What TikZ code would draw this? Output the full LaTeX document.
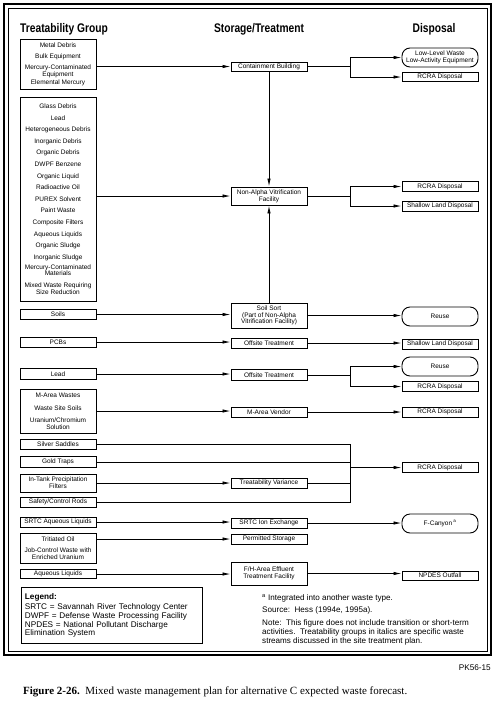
\documentclass[tikz,border=0pt]{standalone}
\usepackage{fontspec}
\setmainfont{Liberation Sans}
\newfontfamily\headfont[FakeStretch=0.82]{Liberation Sans Bold}
\newfontfamily\capfont{Liberation Serif}
\usetikzlibrary{arrows.meta}
\newcommand{\boxfont}{\fontsize{6.5}{6.8}\selectfont}

\begin{document}
\begin{tikzpicture}[x=1pt,y=-1pt,
    wbox/.style={draw,line width=0.9pt,minimum width=76pt,minimum height=10pt,inner sep=1pt,align=center,font=\boxfont},
    rbox/.style={wbox,rounded corners=8pt,minimum height=19pt},
    flow/.style={line width=0.8pt,-{Latex[length=8pt,width=3.4pt]}},
    link/.style={line width=0.8pt}]
    \useasboundingbox (0,0) rectangle (500,702);
    %% Frame
    \draw[line width=2pt] (4,4) rectangle (491,655);
    \draw[line width=0.8pt] (8,8) rectangle (487,651);
    %% Headings
    \node[font=\headfont\fontsize{12.5}{14}\selectfont,anchor=base west,inner sep=0] (hgroup) at (20,32) {Treatability Group};
    \node[font=\headfont\fontsize{12.5}{14}\selectfont,anchor=base,inner sep=0] (hstore) at (259,32) {Storage/Treatment};
    \node[font=\headfont\fontsize{12.5}{14}\selectfont,anchor=base,inner sep=0] (hdisp) at (434,32) {Disposal};
    %% Treatability groups
    \node[wbox,minimum height=50pt] (metal) at (58,64) {Metal Debris\\[4.5pt]Bulk Equipment\\[4pt]Mercury-Contaminated\\Equipment\\[1pt]Elemental Mercury};
    \node[wbox,minimum height=204pt] (glass) at (58,199) {Glass Debris\\[4.8pt]Lead\\[4.8pt]Heterogeneous Debris\\[4.8pt]Inorganic Debris\\[4.8pt]Organic Debris\\[4.8pt]DWPF Benzene\\[4.8pt]Organic Liquid\\[4.8pt]Radioactive Oil\\[4.8pt]PUREX Solvent\\[4.8pt]Paint Waste\\[4.8pt]Composite Filters\\[4.8pt]Aqueous Liquids\\[4.8pt]Organic Sludge\\[4.8pt]Inorganic Sludge\\[3pt]Mercury-Contaminated\\Materials\\[4.8pt]Mixed Waste Requiring\\Size Reduction};
    \node[wbox] (soils) at (58,314.5) {Soils};
    \node[wbox] (pcbs) at (58,342) {PCBs};
    \node[wbox,minimum height=11pt] (lead) at (58,374) {Lead};
    \node[wbox,minimum height=44pt] (marea) at (58,411) {M-Area Wastes\\[7pt]Waste Site Soils\\[5pt]Uranium/Chromium\\Solution};
    \node[wbox] (silver) at (58,444) {Silver Saddles};
    \node[wbox,minimum height=11pt] (gold) at (58,462) {Gold Traps};
    \node[wbox,minimum height=18pt] (intank) at (58,483) {In-Tank Precipitation\\Filters};
    \node[wbox] (safety) at (58,502) {Safety/Control Rods};
    \node[wbox] (srtcliq) at (58,522) {SRTC Aqueous Liquids};
    \node[wbox,minimum height=30pt] (tritium) at (58,548) {Tritiated Oil\\[4pt]Job-Control Waste with\\Enriched Uranium};
    \node[wbox,minimum height=9pt] (aqliq) at (58,574) {Aqueous Liquids};
    %% Storage / treatment
    \node[wbox,minimum height=9pt] (contain) at (269,66.5) {Containment Building};
    \node[wbox,minimum height=18pt] (vitrify) at (269,196) {Non-Alpha Vitrification\\Facility};
    \node[wbox,minimum height=25pt] (soilsort) at (269,315.5) {Soil Sort\\(Part of Non-Alpha\\Vitrification Facility)};
    \node[wbox] (offsiteA) at (269,343) {Offsite Treatment};
    \node[wbox,minimum height=11pt] (offsiteB) at (269,375) {Offsite Treatment};
    \node[wbox] (vendor) at (269,412) {M-Area Vendor};
    \node[wbox] (variance) at (269,483) {Treatability Variance};
    \node[wbox] (ionex) at (269,523) {SRTC Ion Exchange};
    \node[wbox] (permit) at (269,539) {Permitted Storage};
    \node[wbox,minimum height=23pt] (effluent) at (269,573.5) {F/H-Area Effluent\\Treatment Facility};
    %% Disposal
    \node[rbox] (llw) at (440,57.5) {Low-Level Waste\\Low-Activity Equipment};
    \node[wbox,minimum height=8.5pt] (rcraA) at (440,77) {RCRA Disposal};
    \node[wbox] (rcraB) at (440,186.5) {RCRA Disposal};
    \node[wbox] (shallowA) at (440,206) {Shallow Land Disposal};
    \node[rbox] (reuseA) at (440,316.5) {Reuse};
    \node[wbox] (shallowB) at (440,344) {Shallow Land Disposal};
    \node[rbox] (reuseB) at (440,366.5) {Reuse};
    \node[wbox] (rcraC) at (440,386.5) {RCRA Disposal};
    \node[wbox] (rcraD) at (440,412) {RCRA Disposal};
    \node[wbox] (rcraE) at (440,467.5) {RCRA Disposal};
    \node[rbox] (canyon) at (440,523.5) {F-Canyon\,\textsuperscript{a}};
    \node[wbox,minimum height=9pt] (npdes) at (440,575.5) {NPDES Outfall};
    \coordinate (split) at (350,0);
    %% Flows
    \draw[flow] (metal.east |- contain) -- (contain);
    \draw[flow] (contain) -- (split |- contain) |- (llw);
    \draw[flow] (split |- contain) |- (rcraA);
    \draw[flow] (contain) -- (vitrify);
    \draw[flow] (glass.east |- vitrify) -- (vitrify);
    \draw[flow] (vitrify) -- (split |- vitrify) |- (rcraB);
    \draw[flow] (split |- vitrify) |- (shallowA);
    \draw[flow] (soilsort) -- (vitrify);
    \draw[flow] (soils) -- (soilsort.west |- soils);
    \draw[flow] (soilsort) -- (reuseA.west |- soilsort);
    \draw[flow] (pcbs) -- (offsiteA.west |- pcbs);
    \draw[flow] (offsiteA) -- (shallowB.west |- offsiteA);
    \draw[flow] (lead) -- (offsiteB.west |- lead);
    \draw[flow] (offsiteB) -- (split |- offsiteB) |- (reuseB);
    \draw[flow] (split |- offsiteB) |- (rcraC);
    \draw[flow] (marea) -- (vendor.west |- marea);
    \draw[flow] (vendor) -- (rcraD.west |- vendor);
    \draw[link] (silver) -- (split |- silver) -- (split |- safety) -- (safety);
    \draw[link] (gold) -- (split |- gold);
    \draw[flow] (intank) -- (variance.west |- intank);
    \draw[link] (variance) -- (split |- variance);
    \draw[flow] (split |- rcraE) -- (rcraE);
    \draw[flow] (srtcliq) -- (ionex.west |- srtcliq);
    \draw[flow] (ionex) -- (canyon.west |- ionex);
    \draw[flow] (tritium.east |- permit) -- (permit);
    \draw[flow] (aqliq) -- (effluent.west |- aqliq);
    \draw[flow] (effluent) -- (npdes.west |- effluent);
    %% Legend and notes
    \node[draw,line width=0.9pt,anchor=north west,minimum width=181pt,minimum height=56pt,text width=174pt,align=left,inner sep=3pt,font=\fontsize{8.2}{8.8}\selectfont] (legend) at (21,587) {{\bfseries Legend:}\\[1.5pt]SRTC = Savannah River Technology Center\\DWPF = Defense Waste Processing Facility\\NPDES = National Pollutant Discharge\\Elimination System};
    \node[anchor=north west,align=left,inner sep=0,font=\fontsize{8.1}{9}\selectfont] (notes) at (262,594) {\textsuperscript{a} Integrated into another waste type.\\[3pt]Source:\ \ Hess (1994e, 1995a).\\[4pt]Note:\ \ This figure does not include transition or short-term\\activities.\ \ Treatability groups in italics are specific waste\\streams discussed in the site treatment plan.};
    \node[anchor=base east,inner sep=0,font=\fontsize{8.2}{9}\selectfont] (pkid) at (491,670) {PK56-15};
    \node[anchor=base west,inner sep=0,font=\capfont\fontsize{11}{13}\selectfont] (caption) at (23,694) {\textbf{Figure 2-26.}\ \ Mixed waste management plan for alternative C expected waste forecast.};
\end{tikzpicture}
\end{document}
